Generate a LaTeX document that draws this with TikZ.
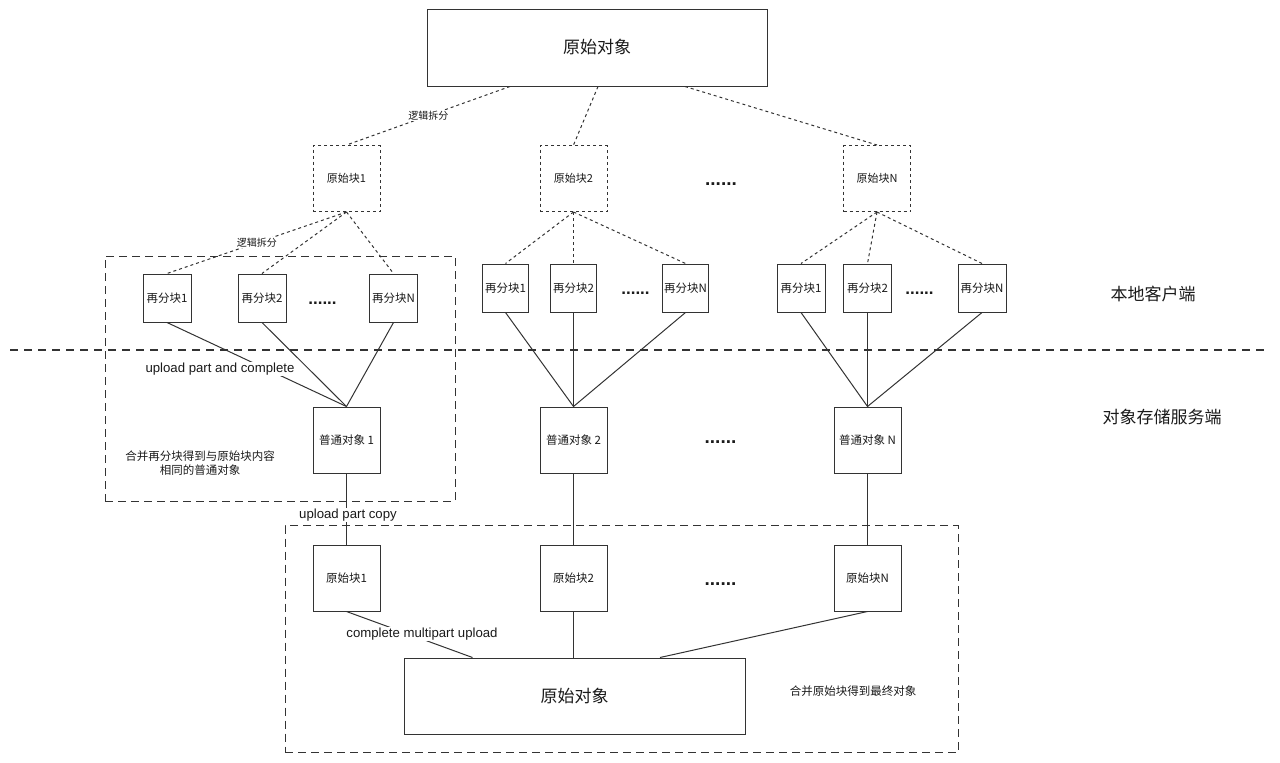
\documentclass[tikz,border=0pt]{standalone}
\usepackage{fontspec}
\setmainfont{Liberation Sans}
\newfontfamily\cjk{Noto Sans CJK SC}
\usetikzlibrary{calc}
\definecolor{ln}{HTML}{333333}
\definecolor{tx}{HTML}{1A1A1A}
\tikzset{
  box/.style={draw=ln, line width=1pt, fill=white, inner sep=0pt, text=tx,
    font=\cjk\fontsize{11.5}{14}\selectfont},
  bigbox/.style={box, font=\cjk\fontsize{17}{20}\selectfont},
  dotbox/.style={box, dash pattern=on 3pt off 3pt, font=\cjk\fontsize{11}{13}\selectfont},
  conn/.style={draw=ln, line width=1pt},
  dotconn/.style={conn, dash pattern=on 3pt off 3pt},
  grp/.style={draw=ln, line width=1pt, dash pattern=on 8pt off 5pt},
  sep/.style={draw=ln, line width=2pt, dash pattern=on 8pt off 6pt},
  lbl/.style={fill=white, inner sep=1pt, text=tx, font=\fontsize{13.2}{15}\selectfont},
  cnlbl/.style={fill=white, inner sep=1pt, text=tx, font=\cjk\fontsize{10}{12}\selectfont},
  note/.style={inner sep=0pt, text=tx, align=center, font=\cjk\fontsize{11.5}{14}\selectfont},
  side/.style={inner sep=0pt, text=tx, font=\cjk\fontsize{17}{20}\selectfont},
  dotsA/.style={inner sep=0pt, anchor=base, text=tx, font=\bfseries\fontsize{19}{20}\selectfont},
  dotsB/.style={inner sep=0pt, anchor=base, text=tx, font=\bfseries\fontsize{17}{20}\selectfont},
}
\begin{document}
\begin{tikzpicture}[x=1pt, y=-1pt]
\useasboundingbox (0,0) rectangle (1280,763);

% group dashed boxes
\node[grp, minimum width=350pt, minimum height=245pt, inner sep=0pt] (g1) at (280,378.5) {};
\node[grp, minimum width=673pt, minimum height=227pt, inner sep=0pt] (g2) at (621.5,639) {};

% separator
\coordinate (s1) at (10,350);
\coordinate (s2) at (1268,350);
\draw[sep] (s1) -- (s2);

% top object
\node[bigbox, minimum width=340pt, minimum height=77pt] (top) at (597,47.5) {原始对象};

% original blocks (logical)
\node[dotbox, minimum width=67pt, minimum height=66pt] (o1) at (346.5,178.5) {原始块1};
\node[dotbox, minimum width=67pt, minimum height=66pt] (o2) at (573.5,178.5) {原始块2};
\node[dotbox, minimum width=67pt, minimum height=66pt] (oN) at (877,178.5) {原始块N};

% re-split blocks
\node[box, minimum width=48pt, minimum height=48pt] (r11) at (167,298) {再分块1};
\node[box, minimum width=48pt, minimum height=48pt] (r12) at (262,298) {再分块2};
\node[box, minimum width=48pt, minimum height=48pt] (r1N) at (393.5,298) {再分块N};
\node[box, minimum width=46pt, minimum height=48pt] (r21) at (505.5,288) {再分块1};
\node[box, minimum width=46pt, minimum height=48pt] (r22) at (573.5,288) {再分块2};
\node[box, minimum width=46pt, minimum height=48pt] (r2N) at (685.5,288) {再分块N};
\node[box, minimum width=48pt, minimum height=48pt] (r31) at (801,288) {再分块1};
\node[box, minimum width=48pt, minimum height=48pt] (r32) at (867.5,288) {再分块2};
\node[box, minimum width=48pt, minimum height=48pt] (r3N) at (982,288) {再分块N};

% normal objects
\node[box, minimum width=67pt, minimum height=66pt] (n1) at (346.5,440) {普通对象 1};
\node[box, minimum width=67pt, minimum height=66pt] (n2) at (573.5,440) {普通对象 2};
\node[box, minimum width=67pt, minimum height=66pt] (nN) at (867.5,440) {普通对象 N};

% original blocks (server)
\node[box, minimum width=67pt, minimum height=66pt] (b1) at (346.5,578) {原始块1};
\node[box, minimum width=67pt, minimum height=66pt] (b2) at (573.5,578) {原始块2};
\node[box, minimum width=67pt, minimum height=66pt] (bN) at (867.5,578) {原始块N};

% final object
\node[bigbox, minimum width=341pt, minimum height=76pt] (final) at (574.5,696) {原始对象};

% dotted connectors: logical split
\draw[dotconn] ([xshift=-87pt]top.south) -- (o1.north) node[midway, cnlbl] {逻辑拆分};
\draw[dotconn] ([xshift=1pt]top.south) -- (o2.north);
\draw[dotconn] ([xshift=88pt]top.south) -- (oN.north);

\draw[dotconn] (o1.south) -- (r11.north) node[midway, cnlbl] {逻辑拆分};
\draw[dotconn] (o1.south) -- (r12.north);
\draw[dotconn] (o1.south) -- (r1N.north);
\draw[dotconn] (o2.south) -- (r21.north);
\draw[dotconn] (o2.south) -- (r22.north);
\draw[dotconn] (o2.south) -- (r2N.north);
\draw[dotconn] (oN.south) -- (r31.north);
\draw[dotconn] (oN.south) -- (r32.north);
\draw[dotconn] (oN.south) -- (r3N.north);

% solid connectors
\draw[conn] (r11.south) -- (n1.north);
\draw[conn] (r12.south) -- (n1.north);
\draw[conn] (r1N.south) -- (n1.north);
\draw[conn] (r21.south) -- (n2.north);
\draw[conn] (r22.south) -- (n2.north);
\draw[conn] (r2N.south) -- (n2.north);
\draw[conn] (r31.south) -- (nN.north);
\draw[conn] (r32.south) -- (nN.north);
\draw[conn] (r3N.south) -- (nN.north);

\draw[conn] (n1.south) -- (b1.north);
\draw[conn] (n2.south) -- (b2.north);
\draw[conn] (nN.south) -- (bN.north);

\draw[conn] (b1.south) -- ([xshift=-102pt]final.north);
\draw[conn] (b2.south) -- ([xshift=-1pt]final.north);
\draw[conn] (bN.south) -- ([xshift=85.5pt]final.north);

% edge labels
\node[lbl] (l1) at (220,369) {upload part and complete};
\node[lbl] (l2) at (348,515) {upload part copy};
\node[lbl] (l3) at (422,634) {complete multipart upload};

% notes
\node[note] (t1) at (200,463) {合并再分块得到与原始块内容\\相同的普通对象};
\node[note] (t2) at (853,691) {合并原始块得到最终对象};
\node[side] (t3) at (1153,294) {本地客户端};
\node[side] (t4) at (1162,417) {对象存储服务端};

% ellipses
\node[dotsA] (d1) at (721,185) {......};
\node[dotsB] (d2) at (322.5,304.5) {......};
\node[dotsB] (d3) at (635.5,294.5) {......};
\node[dotsB] (d4) at (919.5,294.5) {......};
\node[dotsA] (d5) at (720.5,443) {......};
\node[dotsA] (d6) at (720.5,585) {......};
\end{tikzpicture}
\end{document}
